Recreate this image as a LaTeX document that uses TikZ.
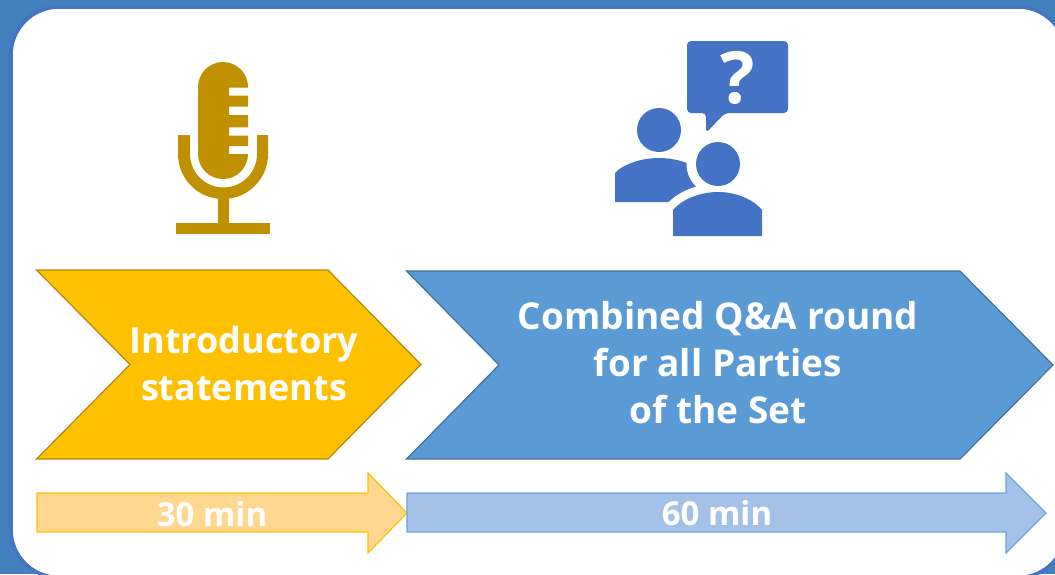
\documentclass[tikz,border=0pt]{standalone}
\usepackage{fontspec}
\setmainfont{Open Sans}
\definecolor{bgblue}{HTML}{417FBD}
\definecolor{cardedge}{HTML}{4472C4}
\definecolor{micgold}{HTML}{BF9000}
\definecolor{iconblue}{HTML}{4472C4}
\definecolor{chevy}{HTML}{FFC000}
\definecolor{chevyedge}{HTML}{B08A10}
\definecolor{chevb}{HTML}{5B9BD5}
\definecolor{chevbedge}{HTML}{41719C}
\definecolor{arry}{HTML}{FFD78F}
\definecolor{arrb}{HTML}{A4C2E7}
\definecolor{arrbedge}{HTML}{6FA3DC}
\tikzset{
  chevlabel/.style={text=white,font=\bfseries\fontsize{36}{47}\selectfont,align=center,inner sep=0pt},
  chevlabelbig/.style={chevlabel,font=\bfseries\fontsize{37}{47}\selectfont},
  timelabel/.style={text=white,font=\bfseries\fontsize{33}{40}\selectfont,inner sep=0pt},
  chevyellow/.style={fill=chevy,draw=chevyedge,line width=1.2pt,line join=miter},
  chevblue/.style={fill=chevb,draw=chevbedge,line width=1.2pt,line join=miter},
  arryellow/.style={fill=arry,draw=chevy,line width=1.2pt},
  arrblue/.style={fill=arrb,draw=arrbedge,line width=1.2pt},
  iconfill/.style={fill=iconblue,draw=none},
  micfill/.style={fill=micgold,draw=none},
}
\begin{document}
\begin{tikzpicture}[x=1pt,y=-1pt]
\useasboundingbox (0,0) rectangle (1055,574);
\fill[bgblue] (0,0) rectangle (1055,574);
% card
\begin{scope}
\clip (0,0) rectangle (1055,574);
\draw[fill=white,draw=cardedge,line width=3.5pt,rounded corners=48pt] (11,7) rectangle (1066,577.5);
\end{scope}
% microphone
\fill[micfill] (198,87) .. controls (198,73.2) and (209.2,62) .. (223,62) .. controls (236.8,62) and (248,73.2) .. (248,87)
  -- (248,87.7) -- (229,87.7) -- (229,95.7) -- (248,95.7) -- (248,106.7) -- (229,106.7) -- (229,115) -- (248,115)
  -- (248,127.3) -- (229,127.3) -- (229,135.7) -- (248,135.7) -- (248,146) -- (229,146) -- (229,154) -- (248,154)
  .. controls (248,167.8) and (236.8,179) .. (223,179) .. controls (209.2,179) and (198,167.8) .. (198,154) -- cycle;
\fill[micfill] (178,135) -- (190,135) -- (190,154)
  .. controls (190,172.5) and (205,187.5) .. (223.5,187.5) .. controls (242,187.5) and (257,172.5) .. (257,154)
  -- (257,135) -- (268,135) -- (268,154)
  .. controls (268,178.9) and (247.9,199) .. (223,199) .. controls (198.1,199) and (178,178.9) .. (178,154) -- cycle;
\fill[micfill] (218,195) rectangle (229,224);
\fill[micfill] (176,223) rectangle (270,234);
% people icon
\fill[iconfill,rounded corners=4pt] (687,41) -- (788,41) -- (788,113) -- (725,113) -- (706,133) -- (706,113) -- (687,113) -- cycle;
\node (qmark) at (737.5,77.5) [text=white,inner sep=0pt,font=\bfseries\fontsize{72}{72}\selectfont] {?};
\fill[iconfill] (659,130) circle[radius=22];
\fill[iconfill] (615,202) -- (615,173) .. controls (622,165) and (640,158) .. (659,158) .. controls (678,158) and (696,165) .. (703,173) -- (703,202) -- cycle;
\path[draw=white,line width=19pt,line join=round,fill=white] (718,164) circle[radius=22];
\path[draw=white,line width=17pt,line join=round,fill=white] (673,236) -- (673,210) .. controls (680,201) and (698,192) .. (718,192) .. controls (738,192) and (755,201) .. (762,210) -- (762,236) -- cycle;
\fill[iconfill] (718,164) circle[radius=22];
\fill[iconfill] (673,236) -- (673,210) .. controls (680,201) and (698,192) .. (718,192) .. controls (738,192) and (755,201) .. (762,210) -- (762,236) -- cycle;
% chevrons
\draw[chevyellow] (36.5,270) -- (328,270) -- (421,364.5) -- (328,459) -- (36.5,459) -- (130,364.5) -- cycle;
\draw[chevblue] (406.5,271) -- (960,271) -- (1053,365) -- (960,459) -- (406.5,459) -- (499,365) -- cycle;
\node[chevlabel] (intro) at (244,363) {Introductory\\statements};
\node[chevlabelbig] (qa) at (718,363) {Combined Q\&A round\\for all Parties\\of the Set};
% time arrows
\draw[arryellow] (37,493) -- (368,493) -- (368,473) -- (407,513) -- (368,553) -- (368,532) -- (37,532) -- cycle;
\draw[arrblue] (407,493) -- (1006,493) -- (1006,473) -- (1046,513) -- (1006,553) -- (1006,532) -- (407,532) -- cycle;
\node[timelabel] (t30) at (212,514) {30 min};
\node[timelabel] (t60) at (717,513) {60 min};
\end{tikzpicture}
\end{document}
